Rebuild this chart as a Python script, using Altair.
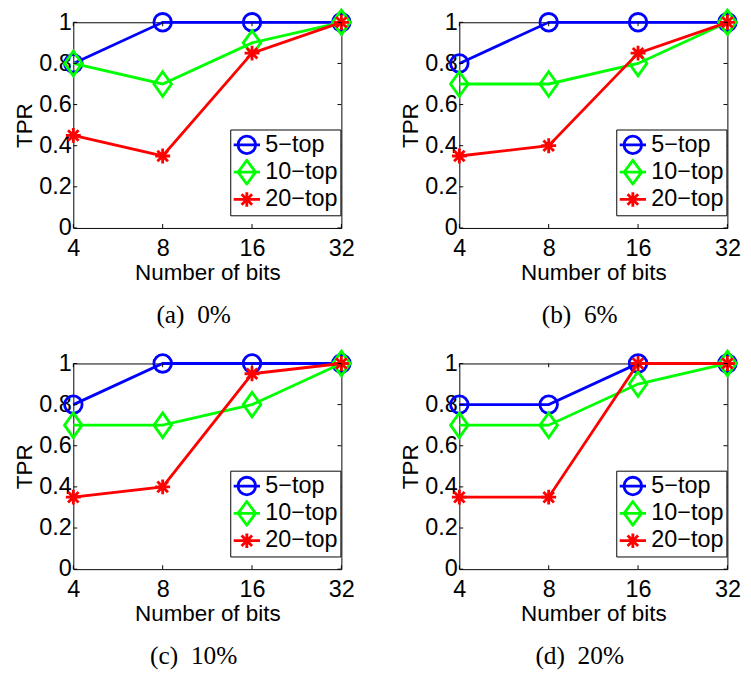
import altair as alt
import pandas as pd

# ---- data ----
bits = [4, 8, 16, 32]
series = ["5−top", "10−top", "20−top"]
colors = ["#0000ff", "#00ff00", "#ff0000"]
y_ticks = [0, 0.2, 0.4, 0.6, 0.8, 1]

captions = ["(a)\u20020%", "(b)\u20026%", "(c)\u200210%", "(d)\u200220%"]

a_top5 = [0.8, 1.0, 1.0, 1.0]
a_top10 = [0.8, 0.7, 0.9, 1.0]
a_top20 = [0.45, 0.35, 0.85, 1.0]

b_top5 = [0.8, 1.0, 1.0, 1.0]
b_top10 = [0.7, 0.7, 0.8, 1.0]
b_top20 = [0.35, 0.4, 0.85, 1.0]

c_top5 = [0.8, 1.0, 1.0, 1.0]
c_top10 = [0.7, 0.7, 0.8, 1.0]
c_top20 = [0.35, 0.4, 0.95, 1.0]

d_top5 = [0.8, 0.8, 1.0, 1.0]
d_top10 = [0.7, 0.7, 0.9, 1.0]
d_top20 = [0.35, 0.35, 1.0, 1.0]

panel_values = [
    (a_top5, a_top10, a_top20),
    (b_top5, b_top10, b_top20),
    (c_top5, c_top10, c_top20),
    (d_top5, d_top10, d_top20),
]

# ---- marker styles ----
marker_paths = [
    "circle",
    "M0,-1.4L1,0L0,1.4L-1,0Z",
    "M-0.85,0L0.85,0M0,-0.85L0,0.85M-0.6,-0.6L0.6,0.6M-0.6,0.6L0.6,-0.6",
]
# legend symbols: line + marker
legend_paths = [
    "M-1,0L1,0M-0.667,0A0.667,0.667 0 1,1 0.667,0A0.667,0.667 0 1,1 -0.667,0Z",
    "M-1,0L1,0M0,-0.9L0.667,0L0,0.9L-0.667,0Z",
    "M-1,0L1,0M0,-0.55L0,0.55M-0.4,-0.4L0.4,0.4M-0.4,0.4L0.4,-0.4",
]

W, H = 275, 211
LW = 2.9

x_scale = alt.Scale(type="log", base=2, domain=[4, 32], nice=False)
y_scale = alt.Scale(domain=[0, 1], nice=False, zero=False)


def make_panel(caption, vals):
    rows = []
    for name, v in zip(series, vals):
        for b, t in zip(bits, v):
            rows.append({"bits": b, "tpr": t, "series": name})
    df = pd.DataFrame(rows)

    x_enc = alt.X("bits:Q", scale=x_scale,
                  axis=alt.Axis(values=bits, format="d", title="Number of bits"))
    y_enc = alt.Y("tpr:Q", scale=y_scale,
                  axis=alt.Axis(values=y_ticks, format="~g", title="TPR"))

    layers = []
    for name, col, shp in zip(series, colors, marker_paths):
        sub = df[df["series"] == name]
        base = alt.Chart(sub)
        layers.append(base.mark_line(color=col, strokeWidth=LW).encode(x=x_enc, y=y_enc))
        layers.append(base.mark_point(shape=shp, size=324, filled=False, color=col,
                                      strokeWidth=LW, opacity=1).encode(x=x_enc, y=y_enc))

    leg = alt.Legend(title=None, orient="none", legendX=161, legendY=110,
                     symbolSize=729, symbolStrokeWidth=LW, symbolOpacity=1,
                     labelFont="Liberation Sans", labelFontSize=24, labelColor="black",
                     labelOffset=4, padding=2, rowPadding=0, clipHeight=27.5,
                     strokeColor="black", fillColor="white")
    legend_layer = alt.Chart(df).mark_point(filled=False, opacity=0, strokeWidth=LW).encode(
        x=x_enc, y=y_enc,
        color=alt.Color("series:N", scale=alt.Scale(domain=series, range=colors), legend=leg),
        shape=alt.Shape("series:N", scale=alt.Scale(domain=series, range=legend_paths), legend=leg),
    )
    layers.append(legend_layer)

    # inward tick marks (MATLAB style)
    tl = pd.DataFrame({"bits": [4] * len(y_ticks), "tpr": y_ticks})
    tr = pd.DataFrame({"bits": [32] * len(y_ticks), "tpr": y_ticks})
    tb = pd.DataFrame({"bits": bits, "tpr": [0] * len(bits)})
    tt = pd.DataFrame({"bits": bits, "tpr": [1] * len(bits)})
    xe = alt.X("bits:Q", scale=x_scale)
    ye = alt.Y("tpr:Q", scale=y_scale)
    layers.append(alt.Chart(tl).mark_tick(orient="horizontal", size=4, thickness=1, color="black",
                                          opacity=1, xOffset=2).encode(x=xe, y=ye))
    layers.append(alt.Chart(tr).mark_tick(orient="horizontal", size=4, thickness=1, color="black",
                                          opacity=1, xOffset=-2).encode(x=xe, y=ye))
    layers.append(alt.Chart(tb).mark_tick(orient="vertical", size=4, thickness=1, color="black",
                                          opacity=1, yOffset=-2).encode(x=xe, y=ye))
    layers.append(alt.Chart(tt).mark_tick(orient="vertical", size=4, thickness=1, color="black",
                                          opacity=1, yOffset=2).encode(x=xe, y=ye))

    return alt.layer(*layers).properties(
        width=W, height=H,
        title=alt.Title(caption, orient="bottom", anchor="middle", dx=-14, offset=18),
    )


panels = [make_panel(c, v) for c, v in zip(captions, panel_values)]

chart = alt.concat(*panels, columns=2, spacing=alt.RowColnumber(row=17, column=43)).resolve_scale(
    color="independent", shape="independent"
).properties(
    padding={"left": 5, "top": -13, "right": 0, "bottom": 0}
).configure_view(
    stroke="black", strokeWidth=1
).configure_axis(
    grid=False, domain=False, ticks=False, tickSize=0,
    labelFont="Liberation Sans", labelFontSize=24, labelColor="black",
    titleFont="Liberation Sans", titleFontSize=23, titleFontWeight="normal", titleColor="black",
    labelFlush=False, labelOverlap=False,
).configure_axisX(
    labelPadding=9, titlePadding=2
).configure_axisY(
    labelPadding=2, titlePadding=3
).configure_title(
    font="Liberation Serif", fontSize=26, fontWeight="normal", color="black"
)

chart.save("out.html", embed_options={"renderer": "svg", "actions": False})
